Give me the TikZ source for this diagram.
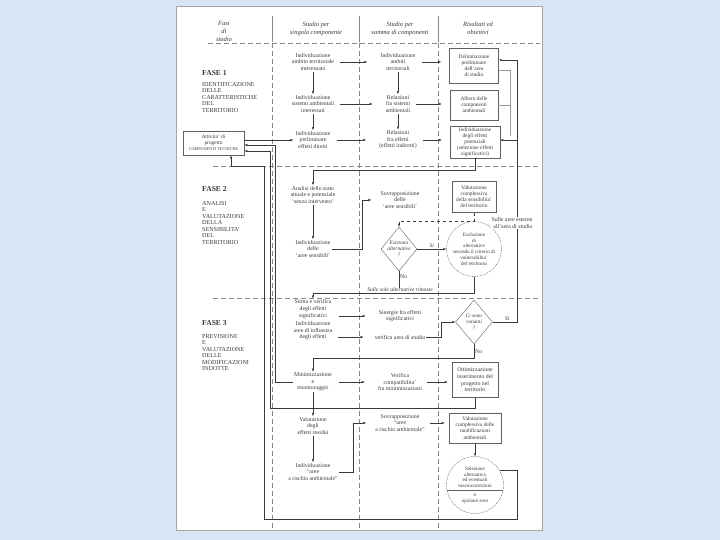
\documentclass[tikz,border=0pt]{standalone}
\usepackage{fontspec}
\setmainfont{Liberation Serif}
\definecolor{slideblue}{HTML}{D8E5F5}
\definecolor{inkgray}{HTML}{3A3A3A}
\usetikzlibrary{arrows.meta,shapes.geometric}

\begin{document}
\begin{tikzpicture}[x=1pt,y=-1pt,font=\fontsize{5.8}{6.6}\selectfont,
 txt/.style={align=center,inner sep=1pt,text=inkgray},
 box/.style={draw=inkgray!80,fill=white,align=center,inner sep=1pt,%
   text=inkgray,line width=0.45pt,font=\fontsize{5.4}{6.1}\selectfont},
 dia/.style={diamond,draw=inkgray!80,inner sep=0pt,minimum width=36pt,%
   minimum height=44pt},
 rnd/.style={circle,draw=inkgray!80,dash pattern=on 1.5pt off 1pt,%
   inner sep=0pt,align=center,text=inkgray,font=\fontsize{5.1}{5.8}\selectfont},
 arr/.style={-{Latex[length=3pt,width=2.4pt]},draw=inkgray,line width=0.4pt},
 ln/.style={draw=inkgray,line width=0.4pt},
 sep/.style={draw=inkgray!60,dash pattern=on 5pt off 3pt,line width=0.4pt},
 hdr/.style={align=center,text=inkgray,font=\fontsize{6.5}{8}\selectfont\itshape},
 fase/.style={anchor=west,inner sep=0pt,text=inkgray,%
   font=\fontsize{7.6}{9}\selectfont\bfseries},
 fasetxt/.style={anchor=north west,align=left,inner sep=0pt,text=inkgray,%
   font=\fontsize{6.1}{6.5}\selectfont}]
\fill[slideblue] (0,0) rectangle (720,540);
\draw[black!35,fill=white] (176,6) rectangle (542,530);

% header and grid
\node[hdr] (hfasi) at (224,31) {Fasi\\di\\studio};
\node[hdr] (hsing) at (316,29) {Studio per\\singola componente};
\node[hdr] (hsomma) at (400,29) {Studio per\\somma di componenti};
\node[hdr] (hris) at (478,28) {Risultati ed\\obiettivi};
\draw[sep] (208,43) -- (540,43);
\draw[sep] (213,166) -- (540,166);
\draw[sep] (213,298) -- (540,298);
\foreach \x in {272,359,438}{
  \draw[sep] (\x,43) -- (\x,530);
  \draw[ln,draw=inkgray!60] (\x,16) -- (\x,42);
}

% phases
\node[fase] (fase1) at (202,73) {FASE 1};
\node[fasetxt] (fase1t) at (202,82) {IDENTIFICAZIONE\\DELLE\\CARATTERISTICHE\\DEL\\TERRITORIO};
\node[fase] (fase2) at (202,189) {FASE 2};
\node[fasetxt] (fase2t) at (202,201) {ANALISI\\E\\VALUTAZIONE\\DELLA\\SENSIBILITA'\\DEL\\TERRITORIO};
\node[fase] (fase3) at (202,323) {FASE 3};
\node[fasetxt] (fase3t) at (202,334) {PREVISIONE\\E\\VALUTAZIONE\\DELLE\\MODIFICAZIONI\\INDOTTE};
\node[box,line width=0.8pt,minimum width=61pt,minimum height=24pt] (progetto) at (213.5,143)
  {Attivita' di\\progetto\\{\fontsize{4.2}{5}\selectfont COMPONENTI TECNICHE}};

% singola componente
\node[txt] (ambito) at (313,62) {Individuazione\\ambito territoriale\\interessato};
\node[txt] (sistemi) at (313,104) {Individuazione\\sistemi ambientali\\interessati};
\node[txt] (diretti) at (313,140) {Individuazione\\preliminare\\effetti diretti};
\node[txt] (stato) at (313,195) {Analisi dello stato\\attuale e potenziale\\`senza intervento'};
\node[txt] (sensib) at (313,249) {Individuazione\\delle\\`aree sensibili'};
\node[txt] (stima) at (313,309) {Stima e verifica\\degli effetti\\significativi};
\node[txt] (influenza) at (313,331) {Individuazione\\aree di influenza\\degli effetti};
\node[txt] (minimiz) at (313,382) {Minimizzazione\\e\\monitoraggio};
\node[txt] (residui) at (313,426) {Valutazione\\degli\\effetti residui};
\node[txt] (rischio) at (313,472) {Individuazione\\``aree\\a rischio ambientale''};

% somma di componenti
\node[txt] (ambiti) at (398,62) {Individuazione\\ambiti\\territoriali};
\node[txt] (relsist) at (398,104) {Relazioni\\fra sistemi\\ambientali};
\node[txt] (releff) at (398,140) {Relazioni\\fra effetti\\(effetti indiretti)};
\node[txt] (sovrsens) at (400,200) {Sovrapposizione\\delle\\`aree sensibili'};
\node[dia,label={[txt,font=\fontsize{5.4}{6.2}\selectfont\itshape]center:Esistono\\alternative\\?}] (esist) at (399,249) {};
\node[txt] (sinergie) at (400,316) {Sinergie fra effetti\\significativi};
\node[txt] (verarea) at (400,337) {verifica area di studio};
\node[txt] (vercomp) at (400,382) {Verifica\\compatibilita'\\fra minimizzazioni};
\node[txt] (sovrrisc) at (400,423) {Sovrapposizione\\``aree\\a rischio ambientale''};

% risultati ed obiettivi
\node[box,minimum width=49pt,minimum height=35pt] (delim) at (474,66) {Delimitazione\\preliminare\\dell'area\\di studio};
\node[box,minimum width=48pt,minimum height=30pt] (albero) at (474,105) {Albero delle\\componenti\\ambientali};
\node[box,minimum width=50pt,minimum height=32pt] (potenz) at (475,142) {Individuazione\\degli effetti\\potenziali\\(selezione effetti\\significativi)};
\node[box,minimum width=44pt,minimum height=31pt] (valsens) at (474,197) {Valutazione\\complessiva\\della sensibilita'\\del territorio};
\node[rnd,minimum size=55pt] (esclus) at (474,249) {Esclusione\\di\\alternative\\secondo il criterio di\\vulnerabilita'\\del territorio};
\node[dia,minimum width=37pt,label={[txt,font=\fontsize{5.2}{6.2}\selectfont]center:Ci sono\\varianti\\?}] (varianti) at (474,322) {};
\node[box,minimum width=46pt,minimum height=35pt,font=\fontsize{5.8}{6.6}\selectfont] (ottim) at (475,380) {Ottimizzazione\\inserimento del\\progetto nel\\territorio};
\node[box,minimum width=52pt,minimum height=30pt] (valmod) at (475,428) {Valutazione\\complessiva delle\\modificazioni\\ambientali};
\node[rnd,minimum size=57pt] (selez) at (475,485) {Selezione\\alternativa\\ed eventuali\\macrocorrezioni\\[3pt]o\\opzione zero};
\draw[ln,draw=inkgray!80] (selez.190) -- (selez.-10);

\coordinate (back) at (517,60);
\coordinate (back2) at (517,140);
\coordinate (jn) at (510,136);
\coordinate (s1) at (362,249);
\coordinate (v1) at (441,337);
\coordinate (r1) at (353,472);
\coordinate (railA) at (275,145);
\coordinate (railB) at (270,151);
\coordinate (railC) at (264,166);
\coordinate (upA) at (231,166);
\coordinate (botR) at (517,519);
\coordinate (botL) at (264,519);

% fase 1
\draw[arr] (ambito) -- (sistemi);
\draw[arr] (sistemi) -- (diretti);
\draw[arr] (ambiti) -- (relsist);
\draw[arr] (relsist) -- (releff);
\draw[arr,shorten <=5pt,shorten >=12pt] (ambito.east) -- (ambito.east -| ambiti.west);
\draw[arr,shorten <=5pt,shorten >=12pt] (sistemi.east) -- (sistemi.east -| relsist.west);
\draw[arr,shorten <=5pt,shorten >=12pt] (diretti.east) -- (diretti.east -| releff.west);
\draw[arr,shorten <=5pt,shorten >=8pt] (ambiti.east) -- (ambiti.east -| delim.west);
\draw[arr,shorten <=5pt,shorten >=8pt] (relsist.east) -- (relsist.east -| albero.west);
\draw[arr,shorten <=5pt,shorten >=8pt] (releff.east) -- (releff.east -| potenz.west);
\draw[ln,draw=inkgray!50] (delim.east |- 0,70) -| (jn);
\draw[ln,draw=inkgray!50] (albero.east) -| (jn);
\draw[arr,shorten >=1pt] (progetto.east |- diretti) -- (diretti.west);
\draw[arr] (potenz.south) -- ++(0,12) -| (stato.north);

% fase 2
\draw[arr] (stato) -- (sensib);
\draw[arr,shorten >=8pt] (sensib) -- (s1) |- (sovrsens.west);
\draw[arr,dashed] (valsens.south) -- ++(0,8) -| (esist.north);
\draw[arr] (esist) -- node[above,txt,font=\fontsize{5.6}{6}\selectfont\itshape]{Si} (esclus);
\draw[ln] (esist.south) -- node[right,txt,pos=0.3]{No} ++(0,18);
\draw[arr] (esclus.south) -- ++(0,16) -| (stima.north);
\node[txt,fill=white,inner sep=0.5pt,font=\fontsize{5.6}{6}\selectfont\itshape] (rimaste) at (400,290) {Sulle sole alternative rimaste};

% fase 3
\draw[arr,shorten <=6pt,shorten >=12pt] (stima.east |- sinergie) -- (sinergie.west);
\draw[arr,shorten <=4pt,shorten >=10pt] (influenza.east |- verarea) -- (verarea.west);
\draw[arr] (verarea) -- (v1) |- (varianti.west);
\draw[arr] (varianti.east) -- node[above,txt,font=\fontsize{5.6}{6}\selectfont\itshape,pos=0.6]{Si} (varianti.east -| back) -- (back) -- (back -| delim.east);
\draw[arr] (back2) -- (back2 -| potenz.east);
\node[txt,fill=white,inner sep=0.5pt,align=right] (esterne) at (512,223) {Sulle aree esterne\\all'area di studio};
\draw[arr] (varianti.south) -- node[right,txt]{No} ++(0,14) -| (minimiz.north);
\draw[arr,shorten <=6pt,shorten >=12pt] (minimiz.east) -- (minimiz.east -| vercomp.west);
\draw[arr,shorten <=4pt,shorten >=4pt] (vercomp.east) -- (vercomp.east -| ottim.west);
\draw[arr] (minimiz) -- (residui);
\draw[arr] (residui) -- (rischio);
\draw[arr,shorten >=8pt] (rischio) -- (r1) |- (sovrrisc.west);
\draw[arr,shorten <=4pt,shorten >=4pt] (sovrrisc.east) -- (sovrrisc.east -| valmod.west);
\draw[arr] (valmod) -- (selez);

% ritorni all'attivita' di progetto
\draw[arr] (minimiz.west) -| (railA) -- (railA -| progetto.east);
\draw[arr] (ottim.south) -- ++(0,10) -| (railB) -- (railB -| progetto.east);
\draw[arr] (selez.30) -| (botR) -- (botL) -- (railC) -- (upA) -- (upA |- progetto.south);
\end{tikzpicture}
\end{document}
